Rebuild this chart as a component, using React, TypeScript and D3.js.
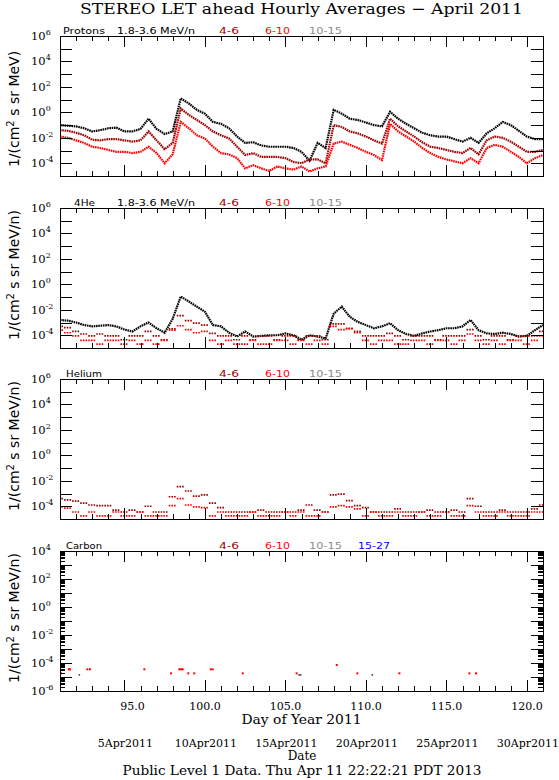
import React, { useEffect, useRef } from 'react';
import * as d3 from 'd3';

// Half-day readings (day of year 2011), values are log10 of the flux
const sampleDays = d3.range(91, 121.25, 0.5);

// Protons
const protonLow = [
  -1.0, -1.05, -1.1, -1.25, -1.5, -1.4, -1.25, -1.2, -1.5, -1.5,
  -1.3, -0.5, -1.3, -1.7, -1.5, 1.1, 0.7, 0.2, -0.1, -0.75,
  -0.9, -1.25, -1.9, -2.4, -2.35, -2.6, -2.7, -2.7, -2.7, -2.8,
  -3.1, -3.8, -2.4, -2.8, 0.2, -0.1, -0.5, -0.6, -0.8, -1.0,
  -1.1, 0.05, -0.5, -0.9, -1.25, -1.6, -1.8, -1.9, -1.9, -2.1,
  -2.3, -2.0, -2.4, -1.65, -1.25, -0.75, -1.0, -1.45, -1.9, -2.1,
  -2.1,
];
const protonMid = [
  -1.4, -1.45, -1.6, -1.8, -2.15, -2.2, -2.1, -2.1, -2.2, -2.3,
  -2.2, -1.5, -2.2, -2.9, -2.4, 0.3, -0.2, -0.6, -1.0, -1.5,
  -1.8, -2.05, -2.7, -3.35, -3.2, -3.5, -3.5, -3.5, -3.6, -3.9,
  -4.0, -3.7, -3.7, -4.0, -1.0, -1.15, -1.5, -1.65, -1.9, -2.2,
  -2.45, -0.5, -1.1, -1.5, -1.9, -2.35, -2.7, -2.8, -2.95, -3.1,
  -3.2, -2.8, -3.3, -2.2, -1.9, -2.0, -2.3, -2.7, -3.1, -3.1,
  -2.95,
];
const protonHigh = [
  -1.9, -2.0, -2.2, -2.4, -2.7, -2.8, -2.95, -3.1, -3.1, -3.2,
  -3.1, -2.7, -3.2, -4.0, -3.3, -0.75, -1.25, -1.8, -2.05, -2.7,
  -3.2, -3.3, -3.6, -4.4, -4.15, -4.4, -4.6, -4.25, -4.4, -4.5,
  -4.25, -4.65, -4.4, -4.25, -2.45, -2.3, -2.55, -2.8, -3.1, -3.35,
  -3.75, -0.9, -1.5, -1.9, -2.3, -2.8, -3.2, -3.5, -3.7, -3.85,
  -4.0, -3.6, -4.0, -2.8, -2.55, -2.7, -3.1, -3.5, -4.0, -3.6,
  -3.35,
];

// 4He
const he4Low = [
  -2.8, -2.85, -3.0, -3.2, -3.3, -3.25, -3.2, -3.3, -3.55, -3.7,
  -3.3, -3.0, -3.45, -3.8, -2.7, -0.95, -1.35, -1.75, -2.15, -3.2,
  -3.3, -3.8, -4.1, -3.7, -4.1, -4.05, -4.0, -4.0, -3.85, -4.0,
  -4.35, -4.0, -4.1, -4.25, -2.3, -1.75, -2.55, -2.95, -3.2, -3.45,
  -3.3, -3.05, -3.6, -3.9, -4.05, -3.85, -3.7, -3.6, -3.45, -3.45,
  -3.3, -2.8, -3.6, -3.85, -3.9, -3.8, -3.9, -4.1, -4.05, -3.6,
  -3.2,
];
const he4Mid = [
  -3.3, -3.4, -3.7, -3.9, -4.05, -3.9, -4.05, -4.05, -4.35, -4.05,
  -4.05, -3.7, -4.05, -4.35, -3.5, -2.45, -2.85, -3.05, -3.2, -3.85,
  -4.05, -4.05, -4.35, -4.05, -4.35, -4.05, -4.05, -4.35, -4.05, -4.05,
  -4.35, -4.05, -4.05, -4.35, -3.1, -3.1, -3.45, -3.7, -4.05, -4.05,
  -4.05, -3.85, -4.05, -4.35, -4.05, -4.05, -4.05, -4.35, -4.05, -4.05,
  -4.05, -3.55, -4.05, -4.35, -4.05, -4.05, -4.35, -4.05, -4.05, -4.05,
  -3.7,
];
const he4High = [
  -3.6, -3.8, -4.05, -4.4, -4.4, -4.7, -4.4, -4.4, -4.7, -4.4,
  -4.7, -4.4, -4.7, -4.4, -3.6, -3.25, -3.55, -3.8, -3.7, -4.4,
  -4.7, -4.4, -4.7, -4.7, -4.4, -4.7, -4.7, -4.4, -4.4, -4.7,
  -4.4, -4.7, -4.4, -4.7, -3.3, -3.55, -3.5, -3.8, -4.4, -4.7,
  -4.4, -4.4, -4.7, -4.7, -4.4, -4.4, -4.7, -4.4, -4.4, -4.7,
  -4.4, -3.9, -4.4, -4.7, -4.4, -4.7, -4.4, -4.4, -4.7, -4.4,
  -4.05,
];

// Helium
const heliumMid = [
  -3.4, -3.5, -3.6, -3.75, -3.9, -3.95, -3.95, -4.3, -4.45, -4.3,
  -4.45, -4.0, -4.45, -4.45, -3.25, -2.45, -2.8, -3.2, -3.1, -3.75,
  -4.1, -4.45, -4.45, -4.45, -4.45, -4.3, -4.45, -4.45, -4.45, -4.45,
  -4.3, -3.9, -4.3, -4.45, -3.1, -3.05, -3.55, -3.95, -4.1, -4.45,
  -4.45, -4.45, -4.2, -4.45, -4.45, -4.45, -4.3, -4.45, -4.45, -4.3,
  -4.45, -3.4, -4.0, -4.45, -4.45, -4.3, -4.45, -4.45, -4.45, -4.2,
  -3.9,
];
const heliumHigh = [
  -4.05, -4.15, -4.45, -4.75, -4.45, -4.75, -4.75, -4.45, -4.75, -4.75,
  -4.45, -4.75, -4.75, -4.75, -3.95, -3.4, -3.9, -4.05, -4.1, -4.75,
  -4.45, -4.75, -4.75, -4.75, -4.45, -4.75, -4.75, -4.75, -4.45, -4.75,
  -4.45, -4.75, -4.75, -4.45, -4.05, -3.95, -4.05, -4.2, -4.75, -4.45,
  -4.75, -4.75, -4.45, -4.75, -4.75, -4.45, -4.75, -4.75, -4.45, -4.75,
  -4.75, -3.95, -4.45, -4.75, -4.75, -4.45, -4.75, -4.75, -4.75, -4.45,
  -4.45,
];

// Carbon (single hours only)
const carbonRedDays = [
  91.06, 91.55, 91.62, 92.7, 92.86, 96.24, 97.9, 98.41, 98.52, 98.62, 98.97,
  99.34, 100.36, 100.48, 102.35, 105.7, 108.19, 109.47, 112.08, 116.43, 116.84,
];
const carbonRedVals = [
  -4.74, -4.45, -4.45, -4.45, -4.45, -4.45, -4.74, -4.45, -4.45, -4.45, -4.74,
  -4.74, -4.45, -4.45, -4.74, -4.74, -4.14, -4.74, -4.74, -4.74, -4.74,
];
const carbonGrayDays = [92.2, 105.85, 105.95, 110.4];
const carbonGrayVals = [-4.85, -4.85, -4.85, -4.85];

const majorDays = [95, 100, 105, 110, 115, 120];
const dayLabels = ['95.0', '100.0', '105.0', '110.0', '115.0', '120.0'];
const dateLabels = ['5Apr2011', '10Apr2011', '15Apr2011', '20Apr2011', '25Apr2011', '30Apr2011'];

const DARK_RED = '#a00000';
const RED = '#ff0000';
const GRAY = '#8c8c8c';
const BLUE = '#0000ff';

const App = () => {
  const ref = useRef<SVGSVGElement>(null);

  useEffect(() => {
    drawChart();
  }, []);

  const drawChart = () => {
    const svg = d3.select(ref.current);
    svg.selectAll('*').remove();

    const left = 60;
    const right = 543;
    const panelHeight = 140;

    const x = d3.scaleLinear().domain([91, 121]).range([left, right]);

    const panels = [
      {
        top: 36, domain: [1e-5, 1e6], name: 'Protons', nameLen: 42, showLow: true, blue: false,
        unit: '1/(cm', unitEnd: ' s sr MeV)',
        lines: [{ vals: protonLow, color: '#000' }, { vals: protonMid, color: DARK_RED }, { vals: protonHigh, color: RED }],
        scatter: [] as { vals: number[]; color: string }[],
      },
      {
        top: 208, domain: [1e-5, 1e6], name: '4He', nameLen: 21, showLow: true, blue: false,
        unit: '1/(cm', unitEnd: ' s sr MeV/n)',
        lines: [{ vals: he4Low, color: '#000' }],
        scatter: [{ vals: he4Mid, color: DARK_RED }, { vals: he4High, color: RED }],
      },
      {
        top: 379, domain: [1e-5, 1e6], name: 'Helium', nameLen: 36, showLow: false, blue: false,
        unit: '1/(cm', unitEnd: ' s sr MeV/n)',
        lines: [],
        scatter: [{ vals: heliumMid, color: DARK_RED }, { vals: heliumHigh, color: RED }],
      },
      {
        top: 551, domain: [1e-6, 1e4], name: 'Carbon', nameLen: 36, showLow: false, blue: true,
        unit: '1/(cm', unitEnd: ' s sr MeV/n)',
        lines: [],
        scatter: [],
      },
    ];

    // Title
    svg
      .append('text')
      .attr('x', 301.5)
      .attr('y', 14)
      .attr('text-anchor', 'middle')
      .attr('font-family', 'DejaVu Serif')
      .attr('font-size', 15)
      .attr('textLength', 443)
      .attr('lengthAdjust', 'spacingAndGlyphs')
      .text('STEREO LET ahead Hourly Averages \u2212 April 2011');

    panels.forEach((p, pi) => {
      const top = p.top;
      const bottom = top + panelHeight;
      const y = d3.scaleLog().domain(p.domain).range([bottom, top]);
      const lv = (v: number) => y(Math.pow(10, v));

      const g = svg.append('g');
      const clipId = `clip-${pi}`;
      g.append('clipPath')
        .attr('id', clipId)
        .append('rect')
        .attr('x', left)
        .attr('y', top)
        .attr('width', right - left)
        .attr('height', panelHeight);

      const data = g.append('g').attr('clip-path', `url(#${clipId})`);

      // continuous series: dense dotted lines
      p.lines.forEach((s) => {
        const line = d3
          .line<number>()
          .x((_, i) => x(sampleDays[i]))
          .y((v) => lv(v));
        data
          .append('path')
          .datum(s.vals)
          .attr('d', line)
          .attr('fill', 'none')
          .attr('stroke', s.color)
          .attr('stroke-width', 2.2)
          .attr('stroke-dasharray', '1.6,0.7');
      });

      // counting-floor series: short dotted runs per reading
      p.scatter.forEach((s) => {
        data
          .selectAll(null)
          .data(s.vals)
          .enter()
          .append('line')
          .attr('x1', (_, i) => x(sampleDays[i]) - 4)
          .attr('x2', (_, i) => x(sampleDays[i]) + 4)
          .attr('y1', (v) => lv(v))
          .attr('y2', (v) => lv(v))
          .attr('stroke', s.color)
          .attr('stroke-width', 1.7)
          .attr('stroke-dasharray', '1.6,1.1');
      });

      if (pi === 3) {
        data
          .selectAll(null)
          .data(carbonRedDays)
          .enter()
          .append('rect')
          .attr('x', (d) => x(d) - 1)
          .attr('y', (_, i) => lv(carbonRedVals[i]) - 1)
          .attr('width', 2)
          .attr('height', 2)
          .attr('fill', RED);
        data
          .selectAll(null)
          .data(carbonGrayDays)
          .enter()
          .append('rect')
          .attr('x', (d) => x(d) - 0.8)
          .attr('y', (_, i) => lv(carbonGrayVals[i]) - 0.8)
          .attr('width', 1.6)
          .attr('height', 1.6)
          .attr('fill', '#444');
      }

      // Frame
      g.append('rect')
        .attr('x', left)
        .attr('y', top)
        .attr('width', right - left)
        .attr('height', panelHeight)
        .attr('fill', 'none')
        .attr('stroke', '#000')
        .attr('stroke-width', 1)
        .attr('shape-rendering', 'crispEdges');

      // X ticks (inward), minor each day, major each 5 days
      const minorDays = d3.range(92, 121);
      const clean = (sel: d3.Selection<SVGGElement, unknown, null, undefined>) => {
        sel.select('.domain').remove();
        sel.selectAll('text').remove();
        sel.selectAll('line').attr('shape-rendering', 'crispEdges');
      };
      g.append('g')
        .attr('transform', `translate(0,${top})`)
        .call(d3.axisTop(x).tickValues(minorDays).tickSize(-5))
        .call(clean);
      g.append('g')
        .attr('transform', `translate(0,${top})`)
        .call(d3.axisTop(x).tickValues(majorDays).tickSize(-11))
        .call(clean);
      g.append('g')
        .attr('transform', `translate(0,${bottom})`)
        .call(d3.axisBottom(x).tickValues(minorDays).tickSize(-5))
        .call(clean);
      g.append('g')
        .attr('transform', `translate(0,${bottom})`)
        .call(d3.axisBottom(x).tickValues(majorDays).tickSize(-11))
        .call(clean);

      // Y ticks: every decade, plus minor ticks on the carbon panel
      const lo = Math.round(Math.log10(p.domain[0]));
      const hi = Math.round(Math.log10(p.domain[1]));
      const decades = d3.range(lo, hi + 1).map((k) => Math.pow(10, k));
      g.append('g')
        .attr('transform', `translate(${left},0)`)
        .call(d3.axisLeft(y).tickValues(decades).tickSize(-12))
        .call(clean);
      g.append('g')
        .attr('transform', `translate(${right},0)`)
        .call(d3.axisRight(y).tickValues(decades).tickSize(-12))
        .call(clean);
      if (pi === 3) {
        const minors: number[] = [];
        d3.range(lo, hi).forEach((k) => {
          d3.range(2, 10).forEach((m) => minors.push(m * Math.pow(10, k)));
        });
        g.append('g')
          .attr('transform', `translate(${left},0)`)
          .call(d3.axisLeft(y).tickValues(minors).tickSize(-5))
          .call(clean);
        g.append('g')
          .attr('transform', `translate(${right},0)`)
          .call(d3.axisRight(y).tickValues(minors).tickSize(-5))
          .call(clean);
      }

      // Y tick labels 10^k for even k
      const labelled = d3.range(lo, hi + 1).filter((k) => k % 2 === 0);
      labelled.forEach((k) => {
        const t = g
          .append('text')
          .attr('x', 31)
          .attr('y', y(Math.pow(10, k)) + 4)
          .attr('font-family', 'DejaVu Serif')
          .attr('font-size', 11.5);
        t.append('tspan').text('10');
        t.append('tspan').attr('dy', -5).attr('font-size', 8).text(String(k));
      });

      // Y axis title
      const yt = g
        .append('text')
        .attr('transform', `translate(19,${top + panelHeight / 2 + (pi === 0 ? 3 : -3)}) rotate(-90)`)
        .attr('text-anchor', 'middle')
        .attr('font-family', 'DejaVu Sans')
        .attr('font-size', 14);
      yt.append('tspan').text(p.unit);
      yt.append('tspan').attr('dy', -5).attr('font-size', 10).text('2');
      yt.append('tspan').attr('dy', 5).text(p.unitEnd);

      // Panel header labels
      const hy = top - 2.5;
      const header = (tx: number, len: number, txt: string, color: string) =>
        g
          .append('text')
          .attr('x', tx)
          .attr('y', hy)
          .attr('font-family', 'DejaVu Sans')
          .attr('font-size', 9.5)
          .attr('fill', color)
          .attr('textLength', len)
          .attr('lengthAdjust', 'spacingAndGlyphs')
          .text(txt);
      header(pi === 1 ? 74 : pi === 0 ? 63 : 66, p.nameLen, p.name, '#000');
      if (p.showLow) header(117, 78, '1.8-3.6 MeV/n', '#000');
      header(219, 20, '4-6', DARK_RED);
      header(265, 25, '6-10', RED);
      header(309, 33, '10-15', GRAY);
      if (p.blue) header(358, 32, '15-27', BLUE);
    });

    // Bottom axis labels
    const bottomY = 551 + panelHeight;
    majorDays.forEach((d, i) => {
      svg
        .append('text')
        .attr('x', x(d) + (d < 100 ? 8 : 0))
        .attr('y', bottomY + 19)
        .attr('text-anchor', 'middle')
        .attr('font-family', 'DejaVu Serif')
        .attr('font-size', 11)
        .text(dayLabels[i]);
      svg
        .append('text')
        .attr('x', x(d) + 1)
        .attr('y', 747)
        .attr('text-anchor', 'middle')
        .attr('font-family', 'DejaVu Serif')
        .attr('font-size', 11)
        .text(dateLabels[i]);
    });

    svg
      .append('text')
      .attr('x', 301.5)
      .attr('y', 724)
      .attr('text-anchor', 'middle')
      .attr('font-family', 'DejaVu Serif')
      .attr('font-size', 12.5)
      .attr('textLength', 120)
      .attr('lengthAdjust', 'spacingAndGlyphs')
      .text('Day of Year 2011');

    svg
      .append('text')
      .attr('x', 302)
      .attr('y', 760)
      .attr('text-anchor', 'middle')
      .attr('font-family', 'DejaVu Serif')
      .attr('font-size', 12)
      .text('Date');

    svg
      .append('text')
      .attr('x', 302)
      .attr('y', 775)
      .attr('text-anchor', 'middle')
      .attr('font-family', 'DejaVu Serif')
      .attr('font-size', 12)
      .attr('textLength', 359)
      .attr('lengthAdjust', 'spacingAndGlyphs')
      .text('Public Level 1 Data. Thu Apr 11 22:22:21 PDT 2013');
  };

  return (
    <svg
      ref={ref}
      width={559}
      height={780}
      style={{ position: 'absolute', left: 0, top: 0, background: '#fff' }}
    />
  );
};

export default App;
